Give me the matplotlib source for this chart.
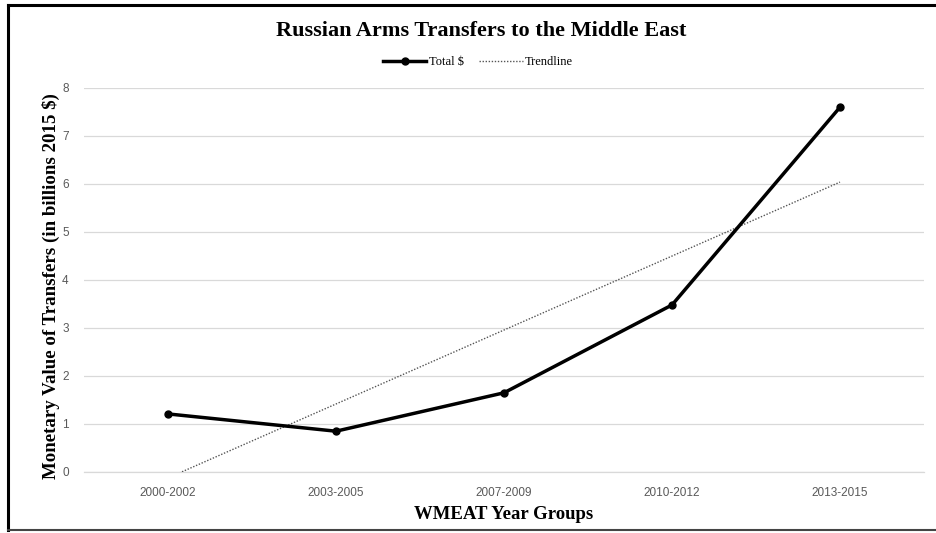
import matplotlib.pyplot as plt
import numpy as np
from matplotlib.lines import Line2D

# data
groups = ['2000-2002', '2003-2005', '2007-2009', '2010-2012', '2013-2015']
total = [1.21, 0.85, 1.65, 3.48, 7.6]

W, H = 937, 533
fig = plt.figure(figsize=(W / 100, H / 100), dpi=100)
ax = fig.add_axes([84 / W, 61 / H, (924 - 84) / W, (472 - 88) / H])

x = np.arange(len(groups))
# linear trendline like the spreadsheet one
slope, icpt = np.polyfit(x, total, 1)
trend = slope * x + icpt

ax.plot(x, total, color='black', lw=2.5, marker='o', ms=5, label='Total $', zorder=3)
ax.plot(x, trend, color='#555555', lw=1, ls=(0, (1, 1.2)), label='Trendline', zorder=2)

ax.set_xlim(-0.5, len(groups) - 0.5)
ax.set_ylim(0, 8)
ax.set_yticks(range(0, 9))
ax.set_xticks(x)
ax.set_xticklabels(groups)
ax.grid(axis='y', color='#d9d9d9', lw=0.9)
ax.axhline(0, color='#d9d9d9', lw=0.9, clip_on=False, zorder=1)
ax.set_axisbelow(True)
for s in ax.spines.values():
    s.set_visible(False)
ax.tick_params(length=0, labelsize=8.5, colors='#595959')
ax.tick_params(axis='x', pad=11)
ax.tick_params(axis='y', pad=11)
for lab in ax.get_xticklabels() + ax.get_yticklabels():
    lab.set_family('Liberation Sans')

serif = 'Liberation Serif'
ax.set_ylabel('Monetary Value of Transfers (in billions 2015 $)', family=serif,
              fontweight='bold', fontsize=13.6, va='center')
ax.yaxis.set_label_coords((51 - 84) / 840, 0.485)
ax.set_xlabel('WMEAT Year Groups', family=serif, fontweight='bold', fontsize=13.5, labelpad=5)

fig.text(481 / W, 1 - 31 / H, 'Russian Arms Transfers to the Middle East', family=serif,
         fontweight='bold', fontsize=16, ha='center', va='center')
ax.legend(loc='center', bbox_to_anchor=(478 / W, 1 - 62 / H), bbox_transform=fig.transFigure,
          ncol=2, frameon=False, prop={'family': serif, 'size': 9}, handlelength=3.5,
          columnspacing=1.2, handletextpad=0.2)

# page border (left, top, bottom)
fig.add_artist(Line2D([8 / W, 8 / W], [1 - 5 / H, 3 / H], color='black', lw=2.2))
fig.add_artist(Line2D([8 / W, 1], [1 - 5 / H, 1 - 5 / H], color='black', lw=2.2))
fig.add_artist(Line2D([8 / W, 1], [3 / H, 3 / H], color='#444444', lw=1.5))

fig.savefig('out.png', dpi=100)
